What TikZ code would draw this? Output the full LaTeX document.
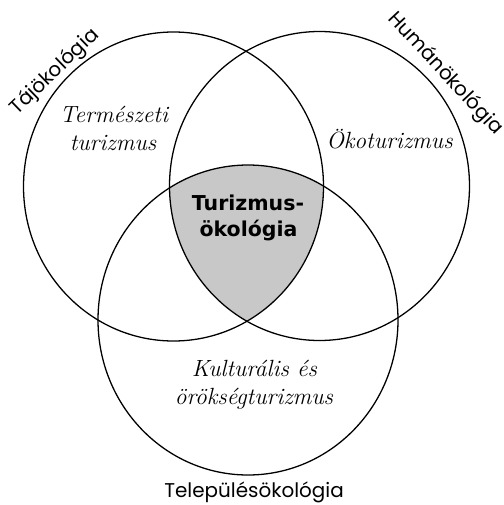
\documentclass[tikz,border=0pt]{standalone}
\usepackage{fontspec}
\newfontfamily\geofont{Poppins}
\newfontfamily\verdfont{DejaVu Sans}
\definecolor{venngray}{RGB}{200,200,200}
\tikzset{
  ring/.style={draw=black, line width=1.1pt},
  areatext/.style={inner sep=0pt, anchor=base, font=\rmfamily\itshape\fontsize{20}{24}\selectfont},
  fieldtext/.style={inner sep=0pt, font=\geofont\fontsize{17}{20}\selectfont},
  coretext/.style={inner sep=0pt, anchor=base, font=\verdfont\bfseries\fontsize{17.5}{20}\selectfont}
}
\begin{document}
\begin{tikzpicture}[x=0.03cm, y=-0.03cm]
\useasboundingbox (0,0) rectangle (503,505);
% gray triple intersection
\begin{scope}
  \clip (173.5,186.5) ellipse [x radius=150, y radius=154.5];
  \clip (319.5,186) ellipse [x radius=150, y radius=154.5];
  \fill[venngray] (248,320) ellipse [x radius=150, y radius=155];
\end{scope}
% circles
\draw[ring] (173.5,186.5) ellipse [x radius=150, y radius=154.5];
\draw[ring] (319.5,186) ellipse [x radius=150, y radius=154.5];
\draw[ring] (248,320) ellipse [x radius=150, y radius=155];
% area texts
\node[areatext] (ta1) at (114,122) {Természeti};
\node[areatext] (ta2) at (113,150) {turizmus};
\node[areatext] (eko) at (389.5,148) {Ökoturizmus};
\node[areatext] (ku1) at (254.5,376) {Kulturális és};
\node[areatext] (ku2) at (254,404) {örökségturizmus};
% core
\node[coretext] (co1) at (248,210) {Turizmus-};
\node[coretext] (co2) at (248.5,236) {ökológia};
% field labels
\node[fieldtext, rotate=44] (taj) at (55,72) {Tájökológia};
\node[fieldtext, rotate=-47] (hum) at (445,74) {Humánökológia};
\node[fieldtext, anchor=base] (tel) at (254,497) {Településökológia};
\end{tikzpicture}
\end{document}
